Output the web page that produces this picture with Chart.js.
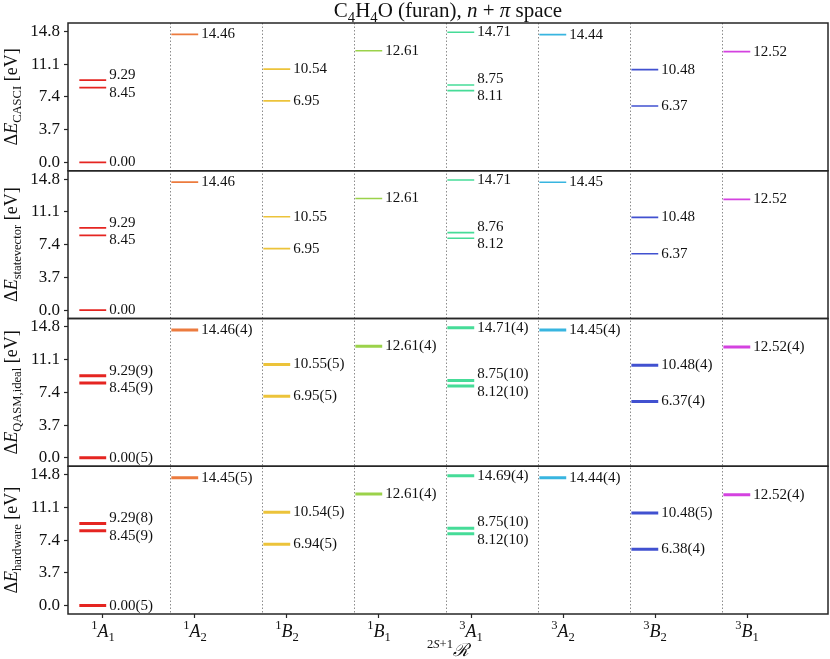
<!DOCTYPE html>
<html>
<head>
<meta charset="utf-8">
<title>furan n+pi space</title>
<script src="https://cdn.jsdelivr.net/npm/chart.js@4.4.0/dist/chart.umd.min.js"></script>
<style>
html, body { margin: 0; padding: 0; background: #fff; }
#wrap { width: 830px; height: 659px; }
</style>
</head>
<body>
<div id="wrap"><canvas id="levels" width="830" height="659"></canvas></div>
<script>
// states on the x axis: multiplicity, symmetry letter, subscript
var stateMult = ['1', '1', '1', '1', '3', '3', '3', '3'];
var stateSym = ['A', 'A', 'B', 'B', 'A', 'A', 'B', 'B'];
var stateSub = ['1', '2', '2', '1', '1', '2', '2', '1'];
var stateColors = ['#e52521', '#ec7b3e', '#ecc33a', '#9bd24a', '#46dc98', '#38b5e0', '#4151d0', '#d442e0'];

var yTicks = [0.0, 3.7, 7.4, 11.1, 14.8];

// excitation energies [eV], one list per state
var casci = [[0.00, 8.45, 9.29], [14.46], [10.54, 6.95], [12.61], [14.71, 8.75, 8.11], [14.44], [10.48, 6.37], [12.52]];
var statevector = [[0.00, 8.45, 9.29], [14.46], [10.55, 6.95], [12.61], [14.71, 8.76, 8.12], [14.45], [10.48, 6.37], [12.52]];
var qasmIdeal = [[0.00, 8.45, 9.29], [14.46], [10.55, 6.95], [12.61], [14.71, 8.75, 8.12], [14.45], [10.48, 6.37], [12.52]];
var qasmIdealErr = [[5, 9, 9], [4], [5, 5], [4], [4, 10, 10], [4], [4, 4], [4]];
var hardware = [[0.00, 8.45, 9.29], [14.45], [10.54, 6.94], [12.61], [14.69, 8.75, 8.12], [14.44], [10.48, 6.38], [12.52]];
var hardwareErr = [[5, 9, 8], [5], [5, 5], [4], [4, 10, 10], [4], [5, 4], [4]];

var panelValues = [casci, statevector, qasmIdeal, hardware];
var panelErrors = [null, null, qasmIdealErr, hardwareErr];
var panelSubs = ['CASCI', 'statevector', 'QASM,ideal', 'hardware'];
var panelWidths = [1.6, 1.6, 3, 3];

var serif = '"Liberation Serif", "DejaVu Serif", serif';
var yMin = -0.95, yMax = 15.75;
var xMin = -0.38, xMax = 7.88;
var lvlLeft = -0.257, lvlRight = 0.035, sepAt = 0.732;

// build one small line dataset per level
var datasets = [];
for (var p = 0; p < panelValues.length; p++) {
	for (var i = 0; i < stateMult.length; i++) {
		var vals = panelValues[p][i];
		for (var j = 0; j < vals.length; j++) {
			var err = panelErrors[p] ? panelErrors[p][i][j] : null;
			datasets.push({
				data: [{x: i + lvlLeft, y: vals[j]}, {x: i + lvlRight, y: vals[j]}],
				yAxisID: 'y' + p,
				showLine: true,
				borderColor: stateColors[i],
				borderWidth: panelWidths[p],
				pointRadius: 0,
				levelText: vals[j].toFixed(2) + (err !== null ? '(' + err + ')' : ''),
				panel: p,
				state: i
			});
		}
	}
}

function drawRich(ctx, segs, x, y, size, align) {
	var w = 0;
	segs.forEach(function(s) {
		ctx.font = (s.it ? 'italic ' : '') + (size * (s.s || 1)) + 'px ' + serif;
		s.w = ctx.measureText(s.t).width;
		w += s.w;
	});
	var cx = align === 'center' ? x - w / 2 : x;
	segs.forEach(function(s) {
		ctx.font = (s.it ? 'italic ' : '') + (size * (s.s || 1)) + 'px ' + serif;
		ctx.fillText(s.t, cx, y + (s.dy || 0) * size);
		cx += s.w;
	});
}

var decor = {
	id: 'decor',
	beforeDatasetsDraw: function(chart) {
		var ctx = chart.ctx, a = chart.chartArea, xs = chart.scales.x;
		ctx.save();
		ctx.strokeStyle = '#8c8c8c';
		ctx.lineWidth = 1;
		ctx.setLineDash([1.5, 2]);
		for (var i = 0; i < stateMult.length - 1; i++) {
			var px = Math.round(xs.getPixelForValue(i + sepAt)) + 0.5;
			ctx.beginPath();
			ctx.moveTo(px, a.top);
			ctx.lineTo(px, a.bottom);
			ctx.stroke();
		}
		ctx.restore();
	},
	afterDatasetsDraw: function(chart) {
		var ctx = chart.ctx, a = chart.chartArea, xs = chart.scales.x;
		// level labels, spread apart where two levels sit close together
		var groups = {};
		chart.data.datasets.forEach(function(ds) {
			var ys = chart.scales['y' + ds.panel];
			var key = ds.panel + '_' + ds.state;
			var py = ys.getPixelForValue(ds.data[0].y);
			(groups[key] = groups[key] || []).push({text: ds.levelText, px: xs.getPixelForValue(ds.data[1].x) + 3, py: py, ly: py});
		});
		ctx.save();
		ctx.fillStyle = '#111';
		ctx.textBaseline = 'middle';
		ctx.textAlign = 'left';
		ctx.font = '15px ' + serif;
		var gap = 17.5;
		Object.keys(groups).forEach(function(k) {
			var items = groups[k].sort(function(a1, b1) { return a1.py - b1.py; });
			for (var n = 1; n < items.length; n++) {
				var u = items[n - 1], d = items[n];
				if (d.ly - u.ly < gap) {
					var mid = (u.py + d.py) / 2;
					u.ly = mid - gap / 2;
					d.ly = mid + gap / 2;
				}
			}
			items.forEach(function(it) { ctx.fillText(it.text, it.px, it.ly); });
		});
		ctx.restore();

		// panel frames
		ctx.save();
		ctx.strokeStyle = '#262626';
		ctx.lineWidth = 1.5;
		for (var p = 0; p < panelValues.length; p++) {
			var ys = chart.scales['y' + p];
			ctx.strokeRect(a.left, ys.top, a.right - a.left, ys.bottom - ys.top);
		}
		ctx.restore();
	},
	afterDraw: function(chart) {
		var ctx = chart.ctx, a = chart.chartArea, xs = chart.scales.x;
		var cx = (a.left + a.right) / 2;
		ctx.save();
		ctx.fillStyle = '#111';
		ctx.textBaseline = 'alphabetic';
		// title
		drawRich(ctx, [
			{t: 'C'}, {t: '4', s: 0.7, dy: 0.22}, {t: 'H'}, {t: '4', s: 0.7, dy: 0.22},
			{t: 'O (furan), '}, {t: 'n', it: true}, {t: ' + '}, {t: '\u03c0', it: true}, {t: ' space'}
		], cx, 17, 21, 'center');
		// x tick labels
		for (var i = 0; i < stateMult.length; i++) {
			drawRich(ctx, [
				{t: stateMult[i], s: 0.7, dy: -0.42}, {t: stateSym[i], it: true}, {t: stateSub[i], s: 0.7, dy: 0.22}
			], xs.getPixelForValue(i), 637, 18, 'center');
		}
		// x axis title
		drawRich(ctx, [
			{t: '2', s: 0.7, dy: -0.42}, {t: 'S', s: 0.7, dy: -0.42, it: true}, {t: '+1', s: 0.7, dy: -0.42},
			{t: '\u211b', it: true}
		], cx, 656, 18, 'center');
		// y axis titles
		for (var p = 0; p < panelValues.length; p++) {
			var ys = chart.scales['y' + p];
			ctx.save();
			ctx.translate(17, (ys.top + ys.bottom) / 2);
			ctx.rotate(-Math.PI / 2);
			drawRich(ctx, [
				{t: '\u0394'}, {t: 'E', it: true}, {t: panelSubs[p], s: 0.7, dy: 0.22}, {t: ' [eV]'}
			], 0, 0, 18, 'center');
			ctx.restore();
		}
		ctx.restore();
	}
};

function yAxis(p) {
	return {
		type: 'linear',
		position: 'left',
		stack: 'panels',
		stackWeight: 1,
		weight: 10 - p,
		min: yMin,
		max: yMax,
		afterBuildTicks: function(s) { s.ticks = yTicks.map(function(v) { return {value: v}; }); },
		afterFit: function(s) { s.width = 68; },
		ticks: {
			callback: function(v) { return Number(v).toFixed(1); },
			font: {family: serif, size: 17},
			color: '#111',
			padding: 4,
			autoSkip: false
		},
		grid: {drawOnChartArea: false, drawTicks: true, tickLength: 4, color: '#262626', tickWidth: 1.2},
		border: {display: false}
	};
}

var scales = {
	x: {
		type: 'linear',
		min: xMin,
		max: xMax,
		afterBuildTicks: function(s) { s.ticks = stateMult.map(function(m, i) { return {value: i}; }); },
		afterFit: function(s) { s.height = 45; },
		ticks: {callback: function() { return ''; }, autoSkip: false},
		grid: {drawOnChartArea: false, drawTicks: true, tickLength: 4, color: '#262626', tickWidth: 1.2},
		border: {display: false}
	}
};
for (var p = 0; p < panelValues.length; p++) scales['y' + p] = yAxis(p);

new Chart(document.getElementById('levels'), {
	type: 'scatter',
	data: {datasets: datasets},
	options: {
		responsive: false,
		animation: false,
		devicePixelRatio: 1,
		layout: {padding: {top: 23, right: 2, left: 0, bottom: 0}},
		plugins: {legend: {display: false}, tooltip: {enabled: false}},
		scales: scales
	},
	plugins: [decor]
});
</script>
</body>
</html>
